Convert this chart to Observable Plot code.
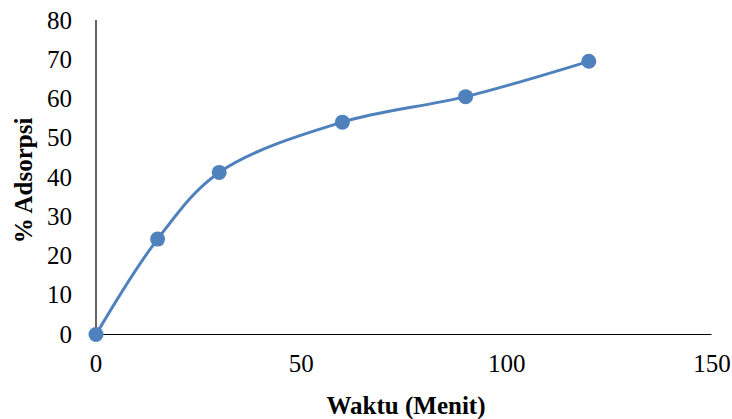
<!DOCTYPE html>
<html>
<head>
<meta charset="utf-8">
<script src="https://cdn.jsdelivr.net/npm/d3@7"></script>
<script src="https://cdn.jsdelivr.net/npm/@observablehq/plot@0.6"></script>
<style>
  html, body { margin: 0; padding: 0; background: #fff; }
  svg, svg text { font-family: "Liberation Serif", "Times New Roman", serif !important; font-variant: normal !important; }
</style>
</head>
<body>
<div id="chart"></div>
<script>
const waktu = [0, 15, 30, 60, 90, 120];
const adsorpsi = [0, 24.3, 41.3, 54.1, 60.6, 69.6];
const xTicks = [0, 50, 100, 150];
const yTicks = [0, 10, 20, 30, 40, 50, 60, 70, 80];
const xLabel = "Waktu (Menit)";
const yLabel = "% Adsorpsi";

const data = waktu.map((w, i) => ({waktu: w, adsorpsi: adsorpsi[i]}));
const blue = "#4F81BD";
const font = "Liberation Serif";

const chart = Plot.plot({
  width: 732,
  height: 419,
  marginLeft: 95.5,
  marginRight: 20.5,
  marginTop: 20,
  marginBottom: 85,
  style: {fontFamily: font, fontSize: "25px", color: "#000", background: "#fff", overflow: "visible"},
  x: {domain: [0, 150]},
  y: {domain: [0, 80]},
  marks: [
    Plot.axisX({ticks: xTicks, tickSize: 0, tickPadding: 20, label: null, fontSize: 25, fontFamily: font}),
    Plot.axisY({ticks: yTicks, tickSize: 0, tickPadding: 24, label: null, fontSize: 25, fontFamily: font}),
    Plot.ruleY([0], {stroke: "#000", strokeWidth: 1.2}),
    Plot.ruleX([0], {stroke: "#000", strokeWidth: 1.2}),
    Plot.line(data, {x: "waktu", y: "adsorpsi", stroke: blue, strokeWidth: 3, curve: "catmull-rom"}),
    Plot.dot(data, {x: "waktu", y: "adsorpsi", fill: blue, r: 7.5, stroke: "none"}),
    Plot.text([xLabel], {frameAnchor: "bottom", textAnchor: "middle", lineAnchor: "middle", dx: 2, dy: 71, fontWeight: "bold", fontSize: 25, fontFamily: font, fill: "#000"}),
    Plot.text([yLabel], {frameAnchor: "left", textAnchor: "middle", lineAnchor: "middle", dx: -72.5, dy: 3, rotate: -90, fontWeight: "bold", fontSize: 25, fontFamily: font, fill: "#000"})
  ]
});
document.getElementById("chart").appendChild(chart);
</script>
</body>
</html>
